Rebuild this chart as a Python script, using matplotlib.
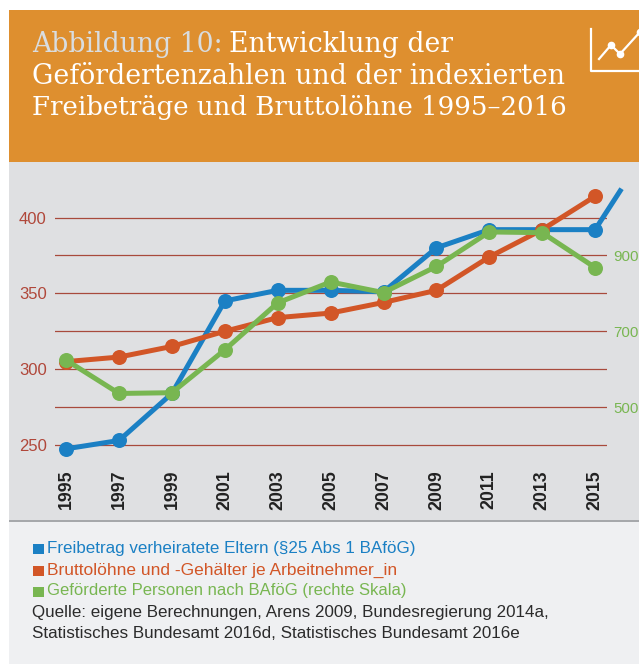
import matplotlib
matplotlib.use('Agg')
import matplotlib.pyplot as plt
from matplotlib.patches import Rectangle

plt.rcParams['font.family'] = ['Liberation Sans', 'DejaVu Sans']

# data
years = [1995, 1997, 1999, 2001, 2003, 2005, 2007, 2009, 2011, 2013, 2015]
year_labels = [str(y) for y in years]
freibetrag = [247.5, 253, 284, 345, 352, 352, 351, 380, 392, 392, 392]
freibetrag_2016 = 419
brutto = [305, 308, 315, 325, 334, 337, 344, 352, 374, 392, 414]
gefoerderte = [624, 536, 538, 651, 775, 830, 802, 871, 962, 960, 868]
left_ticks = [250, 300, 350, 400]
left_minor = [275, 325, 375]
right_ticks = [500, 700, 900]

BLUE = '#1b80c4'
ORANGE = '#d25627'
GREEN = '#78b651'
RED = '#b0473a'
W, H = 639, 664

fig = plt.figure(figsize=(W / 100, H / 100), dpi=100, facecolor='white')

# background panels, pixel coordinates
bg = fig.add_axes([0, 0, 1, 1])
bg.set_xlim(0, W)
bg.set_ylim(H, 0)
bg.axis('off')
bg.add_patch(Rectangle((9, 10), W - 9, 152, color='#de8f2f', lw=0))
bg.add_patch(Rectangle((9, 162), W - 9, 358, color='#dfe0e2', lw=0))
bg.add_patch(Rectangle((9, 522), W - 9, H - 522, color='#eff0f2', lw=0))
bg.add_patch(Rectangle((9, 519.5), W - 9, 2.5, color='#a6a8ab', lw=0))

# title
title_font = {'family': 'DejaVu Serif', 'va': 'center'}
bg.text(32, 44, 'Abbildung 10:', color='#d9dde0', fontsize=19.2, **title_font)
bg.text(229, 44, 'Entwicklung der', color='white', fontsize=19.2, **title_font)
bg.text(32, 76, 'Geförderten\u00adzahlen und der indexierten'.replace('\u00ad', ''), color='white', fontsize=19.3, **title_font)
bg.text(32, 107, 'Freibeträge und Bruttolöhne 1995–2016', color='white', fontsize=18.75, **title_font)

# icon
bg.plot([591, 591, 639], [29, 71, 71], color='white', lw=1.6)
bg.plot([599, 611, 620, 640], [59, 45, 54, 32], color='white', lw=1.6, marker='o', ms=4.5, markevery=[1, 2, 3])

# legend and source
legend = [('Freibetrag verheiratete Eltern (§25 Abs 1 BAföG)', BLUE, 548, 12.25),
          ('Bruttolöhne und -Gehälter je Arbeitnehmer_in', ORANGE, 570, 12.5),
          ('Geförderte Personen nach BAföG (rechte Skala)', GREEN, 591, 12.0)]
for txt, col, y, size in legend:
    bg.add_patch(Rectangle((33, y - 4.5), 10.5, 10.5, color=col, lw=0))
    bg.text(47, y, txt, color=col, fontsize=size, va='center')
bg.text(32, 613, 'Quelle: eigene Berechnungen, Arens 2009, Bundesregierung 2014a,',
        color='#2b2b2b', fontsize=12.27, va='center')
bg.text(32, 634, 'Statistisches Bundesamt 2016d, Statistisches Bundesamt 2016e',
        color='#2b2b2b', fontsize=12.27, va='center')

# main plot area, px box 55..607 x 180..460
ax = fig.add_axes([55 / W, 1 - 460.2 / H, 552 / W, 280.6 / H])
ax.patch.set_alpha(0)
for s in ax.spines.values():
    s.set_visible(False)
ax.set_xlim(1994.58, 2015.45)
ax.set_ylim(240, 425)
ax.set_xticks(years)
ax.set_xticklabels(year_labels, rotation=90, fontsize=12.8, fontweight='bold', color='#222222')
ax.set_yticks(left_ticks)
ax.set_yticks(left_minor, minor=True)
ax.tick_params(axis='x', length=0, pad=7)
ax.tick_params(axis='y', which='both', length=0, pad=6, labelsize=12, labelcolor=RED)
ax.grid(axis='y', which='both', color='#a23a2a', lw=0.9, alpha=0.9)
ax.set_axisbelow(True)
ax.plot(years + [2016], freibetrag + [freibetrag_2016], color=BLUE, lw=3.6, clip_on=False,
        solid_capstyle='butt', zorder=3)
ax.plot(years, freibetrag, color=BLUE, lw=0, marker='o', ms=10.8, mew=0, clip_on=False, zorder=3)
ax.plot(years, brutto, color=ORANGE, lw=3.6, marker='o', ms=10.8, mew=0, clip_on=False, zorder=4)

# right scale for the green series
ax2 = ax.twinx()
ax2.patch.set_alpha(0)
for s in ax2.spines.values():
    s.set_visible(False)
ax2.set_ylim(360, 1100)
ax2.set_yticks(right_ticks)
ax2.tick_params(axis='y', length=0, pad=4.5, labelsize=10.8, labelcolor=GREEN)
ax2.plot(years, gefoerderte, color=GREEN, lw=3.6, marker='o', ms=10.8, mew=0, clip_on=False, zorder=5)

fig.savefig('out.png', dpi=100)
